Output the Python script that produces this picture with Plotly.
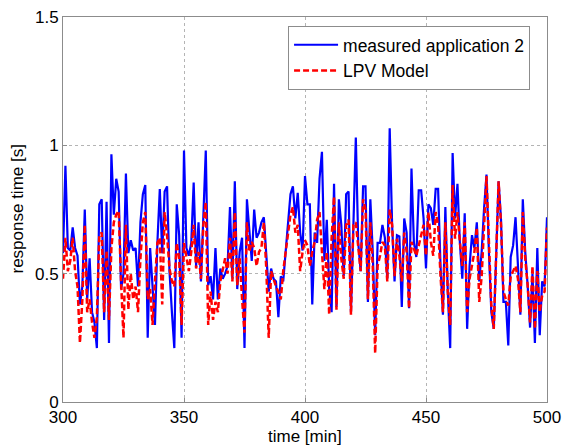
import plotly.graph_objects as go

time_min = list(range(300, 501))

measured = [
    0.58, 0.92, 0.60, 0.59, 0.68, 0.60, 0.57, 0.38, 0.45, 0.75,   # 300-309
    0.40, 0.56, 0.35, 0.31, 0.21, 0.77, 0.79, 0.32, 0.78, 0.23,   # 310-319
    0.965, 0.73, 0.87, 0.82, 0.44, 0.50, 0.89, 0.58, 0.63, 0.59,  # 320-329
    0.60, 0.45, 0.70, 0.81, 0.845, 0.25, 0.60, 0.43, 0.30, 0.62,  # 330-339
    0.83, 0.58, 0.82, 0.84, 0.51, 0.35, 0.21, 0.77, 0.65, 0.25,   # 340-349
    0.98, 0.60, 0.57, 0.62, 0.855, 0.53, 0.70, 0.47, 0.75, 0.98,  # 350-359
    0.455, 0.49, 0.40, 0.60, 0.40, 0.52, 0.48, 0.50, 0.53, 0.76,  # 360-369
    0.48, 0.86, 0.44, 0.585, 0.64, 0.21, 0.79, 0.65, 0.55, 0.75,  # 370-379
    0.64, 0.66, 0.70, 0.72, 0.585, 0.43, 0.52, 0.48, 0.47, 0.33,  # 380-389
    0.49, 0.47, 0.585, 0.70, 0.81, 0.84, 0.715, 0.815, 0.66, 0.59,  # 390-399
    0.88, 0.77, 0.77, 0.38, 0.66, 0.62, 0.87, 0.975, 0.55, 0.71,  # 400-409
    0.44, 0.35, 0.85, 0.37, 0.79, 0.69, 0.49, 0.81, 0.82, 0.35,   # 410-419
    0.70, 1.03, 0.62, 0.51, 0.84, 0.84, 0.39, 0.79, 0.585, 0.26,  # 420-429
    0.62, 0.62, 0.69, 0.64, 0.48, 1.066, 0.69, 0.47, 0.65, 0.645,  # 430-439
    0.37, 0.715, 0.66, 0.365, 0.91, 0.62, 0.565, 0.825, 0.825, 0.715,  # 440-449
    0.52, 0.77, 0.755, 0.69, 0.83, 0.83, 0.53, 0.34, 0.76, 0.43,  # 450-459
    0.21, 0.97, 0.715, 0.85, 0.62, 0.48, 0.735, 0.285, 0.53, 0.65,  # 460-469
    0.60, 0.70, 0.47, 0.585, 0.755, 0.886, 0.585, 0.35, 0.285, 0.56,  # 470-479
    0.86, 0.71, 0.39, 0.39, 0.22, 0.565, 0.61, 0.72, 0.53, 0.34,  # 480-489
    0.79, 0.585, 0.455, 0.29, 0.50, 0.23, 0.60, 0.26, 0.47, 0.45,  # 490-499
    0.72,                                                          # 500
]

lpv_model = [
    0.48, 0.64, 0.51, 0.55, 0.64, 0.51, 0.45, 0.23, 0.40, 0.69,   # 300-309
    0.35, 0.40, 0.31, 0.25, 0.33, 0.65, 0.66, 0.35, 0.59, 0.32,   # 310-319
    0.60, 0.70, 0.73, 0.745, 0.47, 0.25, 0.69, 0.36, 0.50, 0.40,  # 320-329
    0.45, 0.35, 0.56, 0.70, 0.74, 0.40, 0.44, 0.30, 0.47, 0.62,   # 330-339
    0.64, 0.38, 0.74, 0.65, 0.52, 0.47, 0.45, 0.62, 0.56, 0.30,   # 340-349
    0.62, 0.56, 0.51, 0.585, 0.69, 0.52, 0.585, 0.48, 0.69, 0.78,  # 350-359
    0.30, 0.43, 0.32, 0.39, 0.35, 0.47, 0.51, 0.56, 0.50, 0.64,   # 360-369
    0.47, 0.74, 0.455, 0.56, 0.40, 0.27, 0.70, 0.585, 0.624, 0.60,  # 370-379
    0.53, 0.585, 0.60, 0.70, 0.52, 0.25, 0.51, 0.48, 0.45, 0.43,  # 380-389
    0.40, 0.51, 0.58, 0.65, 0.73, 0.76, 0.66, 0.69, 0.51, 0.585,  # 390-399
    0.63, 0.61, 0.53, 0.585, 0.624, 0.71, 0.74, 0.585, 0.44, 0.585,  # 400-409
    0.34, 0.64, 0.80, 0.36, 0.70, 0.56, 0.48, 0.69, 0.71, 0.34,   # 410-419
    0.69, 0.70, 0.60, 0.51, 0.79, 0.75, 0.40, 0.70, 0.53, 0.19,   # 420-429
    0.53, 0.57, 0.624, 0.61, 0.47, 0.75, 0.69, 0.49, 0.636, 0.57,  # 430-439
    0.47, 0.66, 0.585, 0.365, 0.624, 0.60, 0.57, 0.61, 0.65, 0.69,  # 440-449
    0.57, 0.74, 0.624, 0.57, 0.74, 0.69, 0.49, 0.35, 0.70, 0.43,  # 450-459
    0.30, 0.845, 0.636, 0.74, 0.624, 0.53, 0.70, 0.35, 0.48, 0.53,  # 460-469
    0.585, 0.68, 0.39, 0.49, 0.69, 0.88, 0.624, 0.376, 0.285, 0.56,  # 470-479
    0.86, 0.69, 0.43, 0.40, 0.376, 0.49, 0.51, 0.53, 0.48, 0.35,  # 480-489
    0.74, 0.56, 0.455, 0.31, 0.53, 0.285, 0.51, 0.35, 0.415, 0.43,  # 490-499
    0.68,                                                          # 500
]

x_ticks = [300, 350, 400, 450, 500]
y_ticks = [0, 0.5, 1, 1.5]
y_tick_labels = ["0", "0.5", "1", "1.5"]
x_title = "time [min]"
y_title = "response time [s]"

font_family = "Liberation Sans, Arial, sans-serif"
fs = 17

fig = go.Figure()
fig.add_trace(go.Scatter(
    x=time_min, y=measured, mode="lines", name="measured application 2",
    line=dict(color="#0000ff", width=2.2),
))
fig.add_trace(go.Scatter(
    x=time_min, y=lpv_model, mode="lines", name="LPV Model",
    line=dict(color="#ff0000", width=2.5, dash="6px,3px"),
))

axis_common = dict(
    showline=True, linecolor="#8c8c8c", linewidth=1, mirror=True,
    showgrid=True, gridcolor="#b4b4b4", griddash="dot", gridwidth=1,
    zeroline=False, ticks="inside", ticklen=4, tickcolor="#8c8c8c",
    tickfont=dict(family=font_family, size=fs, color="#000000"),
    automargin=False,
)

fig.update_layout(
    width=564, height=447,
    margin=dict(l=63, r=17, t=17, b=45),
    paper_bgcolor="#ffffff", plot_bgcolor="#ffffff",
    font=dict(family=font_family, size=fs, color="#000000"),
    showlegend=True,
    legend=dict(
        x=0.465, y=0.977, xanchor="left", yanchor="top",
        bordercolor="#8c8c8c", borderwidth=1, bgcolor="#ffffff",
        font=dict(family=font_family, size=17.5, color="#000000"),
        tracegroupgap=0, itemwidth=44,
    ),
    xaxis=dict(
        range=[300, 500], tickvals=x_ticks, ticktext=[str(v) for v in x_ticks],
        **axis_common,
    ),
    yaxis=dict(
        range=[0, 1.5], tickvals=y_ticks, ticktext=y_tick_labels,
        **axis_common,
    ),
    annotations=[
        dict(text=x_title, xref="paper", yref="paper", x=0.5, y=-0.089,
             xanchor="center", yanchor="middle", showarrow=False,
             font=dict(family=font_family, size=fs, color="#000000")),
        dict(text=y_title, xref="paper", yref="paper", x=-0.095, y=0.5,
             xanchor="center", yanchor="middle", showarrow=False, textangle=-90,
             font=dict(family=font_family, size=fs, color="#000000")),
    ],
)

fig.write_html("out.html")
